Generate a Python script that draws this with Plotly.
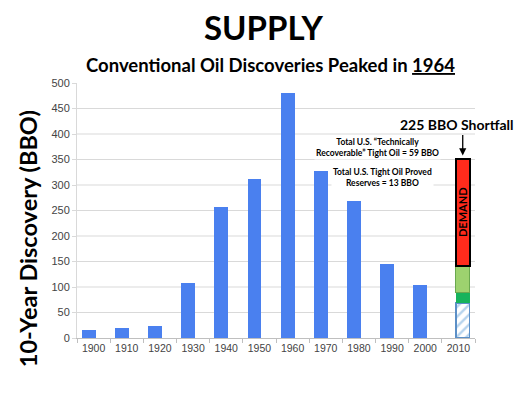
import plotly.graph_objects as go

decades = ["1900", "1910", "1920", "1930", "1940", "1950", "1960", "1970", "1980", "1990", "2000", "2010"]
discovery = [16.5, 20.5, 24, 108, 256, 311, 480, 327, 269, 146, 103, None]

stack_cat = ["2010"]
proved_hatched = [69]
tight_proved = [20]
tight_recoverable = [53]
demand_shortfall = [209]

grid_values = [50, 100, 150, 200, 250, 300, 350, 400, 450]

FONT = "Lato"
fig = go.Figure()

fig.add_trace(go.Bar(x=decades, y=discovery, marker=dict(color="#4a80ef", line=dict(width=0)),
                     offset=-0.355, width=0.415, showlegend=False))
fig.add_trace(go.Bar(x=stack_cat, y=proved_hatched,
                     marker=dict(color="white", line=dict(color="#5b8fc7", width=1.5),
                                 pattern=dict(shape="/", fgcolor="#6fa8dc", bgcolor="white", size=7, solidity=0.35)),
                     offset=-0.08, width=0.42, showlegend=False))
fig.add_trace(go.Bar(x=stack_cat, y=tight_proved, marker=dict(color="#16b35c", line=dict(width=0)),
                     offset=-0.08, width=0.42, showlegend=False))
fig.add_trace(go.Bar(x=stack_cat, y=tight_recoverable, marker=dict(color="#9dd26f", line=dict(color="#6aa84f", width=1)),
                     offset=-0.08, width=0.42, showlegend=False))
fig.add_trace(go.Bar(x=stack_cat, y=demand_shortfall, marker=dict(color="#ff2b1c", line=dict(color="black", width=2)),
                     offset=-0.08, width=0.42, showlegend=False))

stack_x = 11.13
total = proved_hatched[0] + tight_proved[0] + tight_recoverable[0] + demand_shortfall[0]
demand_mid = proved_hatched[0] + tight_proved[0] + tight_recoverable[0] + demand_shortfall[0] / 2

annotations = [
    dict(text="<b>SUPPLY</b>", xref="paper", yref="paper", x=0.468, y=1.219, showarrow=False,
         xanchor="center", yanchor="middle", font=dict(family=FONT, size=33, color="black")),
    dict(text="<b>Conventional Oil Discoveries Peaked in <u>1964</u></b>", xref="paper", yref="paper",
         x=0.485, y=1.07, showarrow=False, xanchor="center", yanchor="middle",
         font=dict(family=FONT, size=18.5, color="black")),
    dict(text="<b>10-Year Discovery (BBO)</b>", xref="paper", yref="paper", x=-0.124, y=0.39,
         textangle=-90, showarrow=False, xanchor="center", yanchor="middle",
         font=dict(family=FONT, size=23.5, color="black")),
    dict(text="<b>225 BBO Shortfall</b>", x=10.95, y=418, showarrow=False,
         font=dict(family=FONT, size=14, color="black")),
    dict(text="", x=stack_x, y=total + 7, ax=0, ay=-22, showarrow=True, arrowhead=2, arrowsize=1.1,
         arrowwidth=1.3, arrowcolor="black"),
    dict(text="<b>Total U.S. “Technically<br>Recoverable” Tight Oil = 59 BBO</b>", x=8.575, y=374,
         showarrow=False, bgcolor="white", font=dict(family=FONT, size=8.5, color="black")),
    dict(text="<b>Total U.S. Tight Oil Proved<br>Reserves = 13 BBO</b>", x=8.725, y=315,
         showarrow=False, bgcolor="white", font=dict(family=FONT, size=8.5, color="black")),
    dict(text="<b>DEMAND</b>", x=stack_x, y=demand_mid, textangle=-90, showarrow=False,
         font=dict(family=FONT, size=11, color="black")),
]

shapes = [dict(type="line", xref="paper", yref="y", x0=0, x1=1, y0=g, y1=g, layer="below",
               line=dict(color="#d9d9d9", width=1.2)) for g in grid_values]

# page body adds an 8px margin; size the figure so it fits the 530x393 window
fig.update_layout(
    width=522, height=385,
    margin=dict(l=69, r=55, t=75, b=55),
    paper_bgcolor="white", plot_bgcolor="white",
    barmode="stack",
    annotations=annotations,
    shapes=shapes,
    xaxis=dict(type="category", categoryorder="array", categoryarray=decades,
               range=[-0.5, 11.5], showgrid=False, showline=True, linecolor="#bfbfbf", linewidth=1,
               ticks="outside", tickson="boundaries", ticklen=4, tickcolor="#bfbfbf",
               tickfont=dict(family="Liberation Sans", size=10.5, color="#444444")),
    yaxis=dict(range=[0, 500], dtick=50, showgrid=False,
               showline=True, linecolor="#d9d9d9", linewidth=1, zeroline=False,
               ticks="outside", ticklen=4, tickcolor="#d9d9d9",
               tickfont=dict(family="Liberation Sans", size=11, color="#444444")),
)

fig.write_html("out.html")
